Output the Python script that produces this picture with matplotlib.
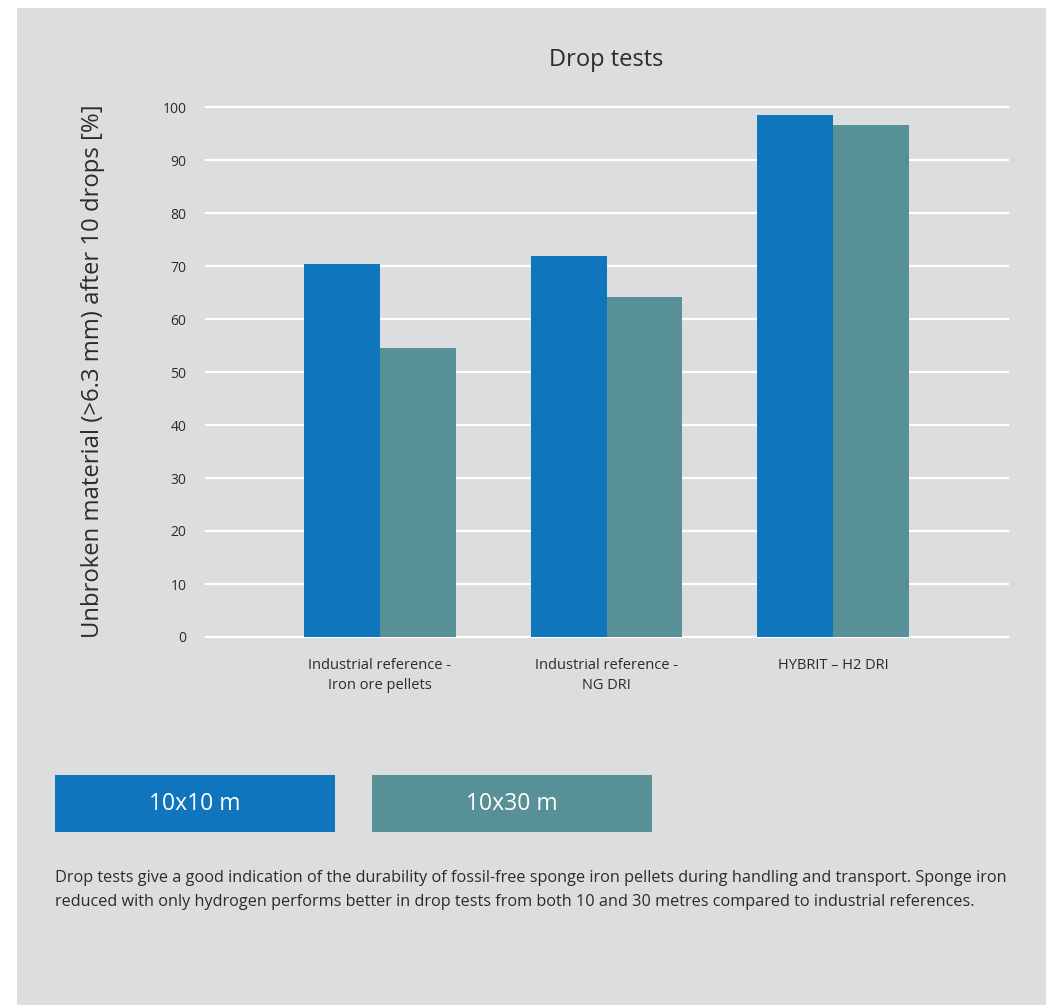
import matplotlib
matplotlib.use("Agg")
import matplotlib.pyplot as plt
from matplotlib.patches import Rectangle

categories = ["Industrial reference -\nIron ore pellets",
              "Industrial reference -\nNG DRI",
              "HYBRIT – H2 DRI"]
drop_10x10 = [70.4, 71.9, 98.5]
drop_10x30 = [54.5, 64.2, 96.6]
series_names = ["10x10 m", "10x30 m"]
yticks = [0, 10, 20, 30, 40, 50, 60, 70, 80, 90, 100]

BLUE = "#0f76bd"
TEAL = "#579097"
PANEL = "#dcdddf"
TXT = "#2b2b2b"

plt.rcParams['font.family'] = ['Open Sans', 'DejaVu Sans']

W, H = 1051, 1005
fig = plt.figure(figsize=(W / 100, H / 100), dpi=100)
fig.patch.set_facecolor("white")

# grey panel behind everything
fig.add_artist(Rectangle((17 / W, 0), (1046 - 17) / W, (H - 8) / H,
                         transform=fig.transFigure, facecolor=PANEL,
                         edgecolor="none", zorder=-10))

ax = fig.add_axes([206 / W, (H - 637) / H, 802 / W, 530 / H])
ax.set_facecolor("none")

x = list(range(len(categories)))
bw = 0.335
ax.bar([i - bw / 2 for i in x], drop_10x10, width=bw, color=BLUE, zorder=3)
ax.bar([i + bw / 2 for i in x], drop_10x30, width=bw, color=TEAL, zorder=3)

ax.set_xlim(-0.767, 2.771)
ax.set_ylim(0, 100)
ax.set_yticks(yticks)
ax.set_xticks(x)
ax.set_xticklabels(categories, fontsize=10.5, color=TXT, linespacing=1.45)
ax.tick_params(axis="y", length=0, pad=14, labelsize=10, labelcolor=TXT)
ax.tick_params(axis="x", length=0, pad=15)
for s in ax.spines.values():
    s.set_visible(False)
for yv in yticks:
    ax.axhline(yv, color="white", lw=1.6, zorder=1, clip_on=False)

fig.text(606 / W, 1 - 60 / H, "Drop tests", ha="center", va="center",
         fontsize=17, color=TXT)
fig.text(93 / W, 1 - 371 / H, "Unbroken material (>6.3 mm) after 10 drops [%]",
         rotation=90, ha="center", va="center", fontsize=17.2, color=TXT)

# legend boxes
for (x0, x1), name, col in zip([(55, 335), (372, 652)], series_names, [BLUE, TEAL]):
    fig.add_artist(Rectangle((x0 / W, 1 - 832 / H), (x1 - x0) / W, 57 / H,
                             transform=fig.transFigure, facecolor=col,
                             edgecolor="none"))
    fig.text((x0 + x1) / 2 / W, 1 - 804 / H, name, ha="center", va="center",
             fontsize=16.5, color="white")

caption = ("Drop tests give a good indication of the durability of fossil-free sponge iron pellets "
           "during handling and transport. Sponge iron\nreduced with only hydrogen performs better "
           "in drop tests from both 10 and 30 metres compared to industrial references.")
fig.text(55 / W, 1 - 890 / H, caption, ha="left", va="center", fontsize=11.7,
         color=TXT, linespacing=1.65)

fig.savefig("out.png", dpi=100, facecolor="white")
